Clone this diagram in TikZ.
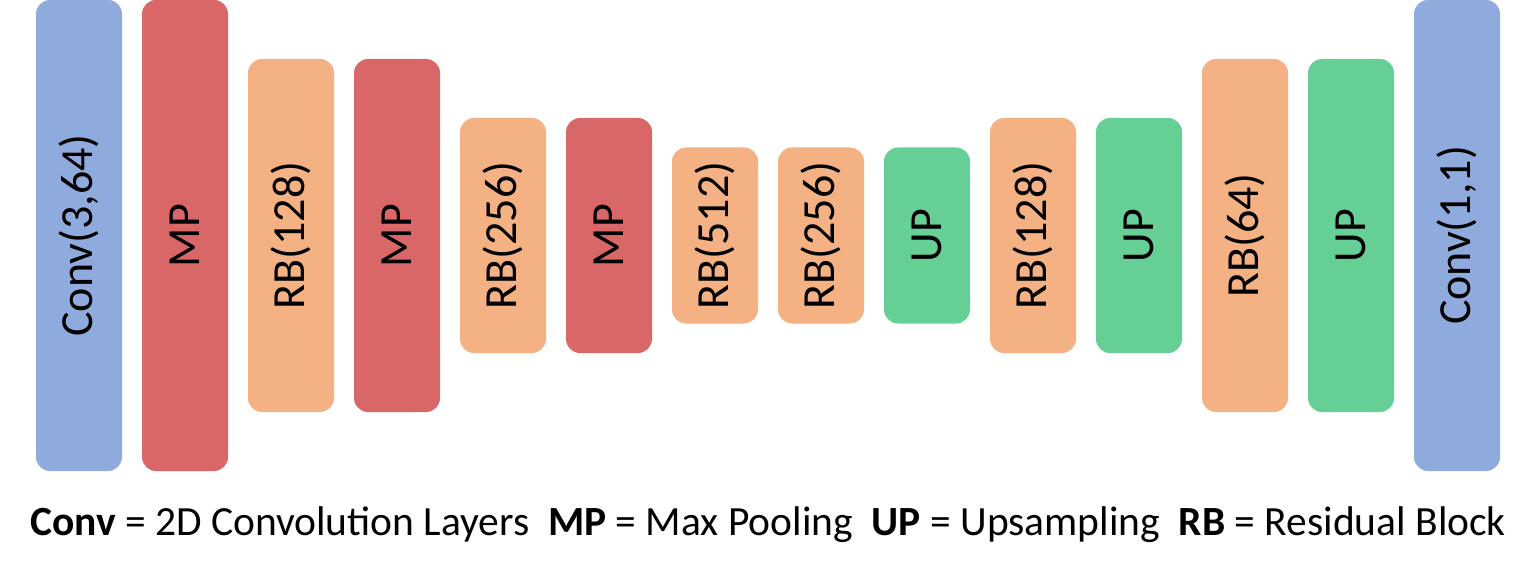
\documentclass[tikz,border=0pt]{standalone}
\usepackage{fontspec}
\setmainfont{Carlito}
\definecolor{cblue}{HTML}{8FAADC}
\definecolor{cred}{HTML}{D96767}
\definecolor{corange}{HTML}{F4B183}
\definecolor{cgreen}{HTML}{66CF95}
\begin{document}
\begin{tikzpicture}[x=1pt,y=-1pt,
  blk/.style={rounded corners=14pt, rotate=90, minimum height=86pt, inner sep=0pt,
    font=\fontsize{46}{50}\selectfont, text=black},
  convb/.style={blk, fill=cblue},
  mpb/.style={blk, fill=cred},
  rbb/.style={blk, fill=corange},
  upb/.style={blk, fill=cgreen}]
\useasboundingbox (0,0) rectangle (1535,572);
\node[convb, minimum width=471pt] (b1) at (79,235.5) {Conv(3,64)};
\node[mpb, minimum width=471pt] (b2) at (185,235.5) {MP};
\node[rbb, minimum width=353pt] (b3) at (291,235.5) {RB(128)};
\node[mpb, minimum width=353pt] (b4) at (397,235.5) {MP};
\node[rbb, minimum width=235pt] (b5) at (503,235.5) {RB(256)};
\node[mpb, minimum width=235pt] (b6) at (609,235.5) {MP};
\node[rbb, minimum width=176pt] (b7) at (715,235.5) {RB(512)};
\node[rbb, minimum width=176pt] (b8) at (821,235.5) {RB(256)};
\node[upb, minimum width=176pt] (b9) at (927,235.5) {UP};
\node[rbb, minimum width=235pt] (b10) at (1033,235.5) {RB(128)};
\node[upb, minimum width=235pt] (b11) at (1139,235.5) {UP};
\node[rbb, minimum width=353pt] (b12) at (1245,235.5) {RB(64)};
\node[upb, minimum width=353pt] (b13) at (1351,235.5) {UP};
\node[convb, minimum width=471pt] (b14) at (1457,235.5) {Conv(1,1)};
\node[anchor=base, inner sep=0pt, font=\fontsize{41.5}{45}\selectfont] (legend) at (768,535)
  {\textbf{Conv} = 2D Convolution Layers\ \ \textbf{MP} = Max Pooling\ \ \textbf{UP} = Upsampling\ \ \textbf{RB} = Residual Block};
\end{tikzpicture}
\end{document}
